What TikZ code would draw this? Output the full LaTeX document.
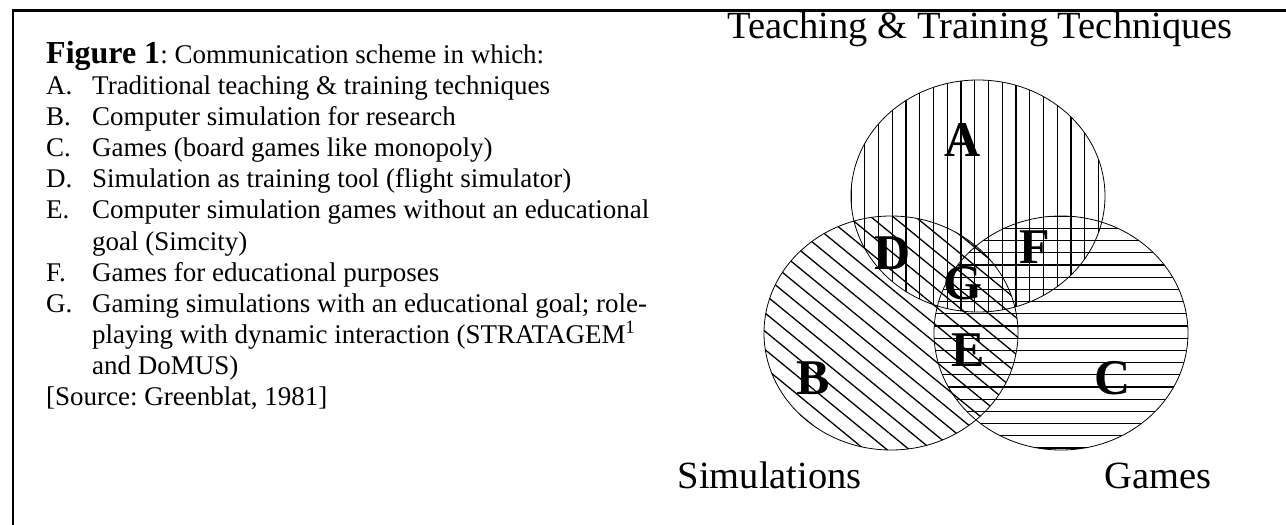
\documentclass[tikz,border=0pt]{standalone}
\usepackage{fontspec}
\setmainfont{Liberation Serif}
\usetikzlibrary{positioning}
\frenchspacing

\begin{document}
\begin{tikzpicture}[x=1pt, y=-1pt,
  frameline/.style={line width=2.3pt},
  ring/.style={draw, line width=0.8pt},
  hatch/.style={line width=1.3pt},
  item/.style={anchor=base west, inner sep=0pt, font=\fontsize{27}{31}\selectfont},
  region/.style={inner sep=0pt, font=\fontsize{50}{52}\bfseries\selectfont},
  setname/.style={inner sep=0pt, font=\fontsize{38.5}{40}\selectfont}
]
\useasboundingbox (0,0) rectangle (1286,525);

% frame (left and top edge only)
\draw[frameline] (13.3,525) -- (13.3,10.5) -- (1286,10.5);

% left column: caption and list
\node[item] (fig) at (46,63)
  {{\fontsize{32}{36}\bfseries Figure 1}: Communication scheme in which:};
\node[item] (ia) at (46,94)  {\makebox[46pt][l]{A.}Traditional teaching \& training techniques};
\node[item] (ib) at (46,125) {\makebox[46pt][l]{B.}Computer simulation for research};
\node[item] (ic) at (46,156) {\makebox[46pt][l]{C.}Games (board games like monopoly)};
\node[item] (id) at (46,187) {\makebox[46pt][l]{D.}Simulation as training tool (flight simulator)};
\node[item] (ie) at (46,218) {\makebox[46pt][l]{E.}Computer simulation games without an educational};
\node[item] (ie2) at (92,250) {goal (Simcity)};
\node[item] (if) at (46,281) {\makebox[46pt][l]{F.}Games for educational purposes};
\node[item] (ig) at (46,312) {\makebox[46pt][l]{G.}Gaming simulations with an educational goal; role-};
\node[item] (ig2) at (92,343) {playing with dynamic interaction (STRATAGEM\textsuperscript{1}};
\node[item] (ig3) at (92,374) {and DoMUS)};
\node[item] (src) at (46,405) {[Source: Greenblat, 1981]};

% Venn diagram
\coordinate (ca) at (978,196);
\coordinate (cb) at (891,333);
\coordinate (cc) at (1061,333);

% A: vertical hatching
\begin{scope}
  \clip (ca) ellipse [x radius=127, y radius=116];
  \foreach \k in {0,...,19}
    \draw[hatch] ({851+13.75*\k},75) -- ({851+13.75*\k},320);
\end{scope}
% B: diagonal hatching
\begin{scope}
  \clip (cb) ellipse [x radius=127, y radius=117];
  \foreach \k in {-10,...,15}
    \draw[hatch] (755,{176.7+18.3*\k}) -- (1025,{398.1+18.3*\k});
\end{scope}
% C: horizontal hatching
\begin{scope}
  \clip (cc) ellipse [x radius=127, y radius=117];
  \foreach \k in {-14,...,5}
    \draw[hatch] (930,{387+12.2*\k}) -- (1195,{387+12.2*\k});
\end{scope}

\draw[ring] (ca) ellipse [x radius=127, y radius=116];
\draw[ring] (cb) ellipse [x radius=127, y radius=117];
\draw[ring] (cc) ellipse [x radius=127, y radius=117];

\node[region] (ra) at (963,140) {A};
\node[region] (rb) at (813,378) {B};
\node[region] (rc) at (1113,378) {C};
\node[region] (rd) at (893,253) {D};
\node[region] (re) at (968,350) {E};
\node[region] (rf) at (1035,247) {F};
\node[region] (rg) at (963,283) {G};

\node[setname, anchor=base] (title) at (980,38) {Teaching \& Training Techniques};
\node[setname, anchor=base east] (sims) at (862,488) {Simulations};
\node[setname, anchor=base west] (games) at (1104,488) {Games};
\end{tikzpicture}
\end{document}
